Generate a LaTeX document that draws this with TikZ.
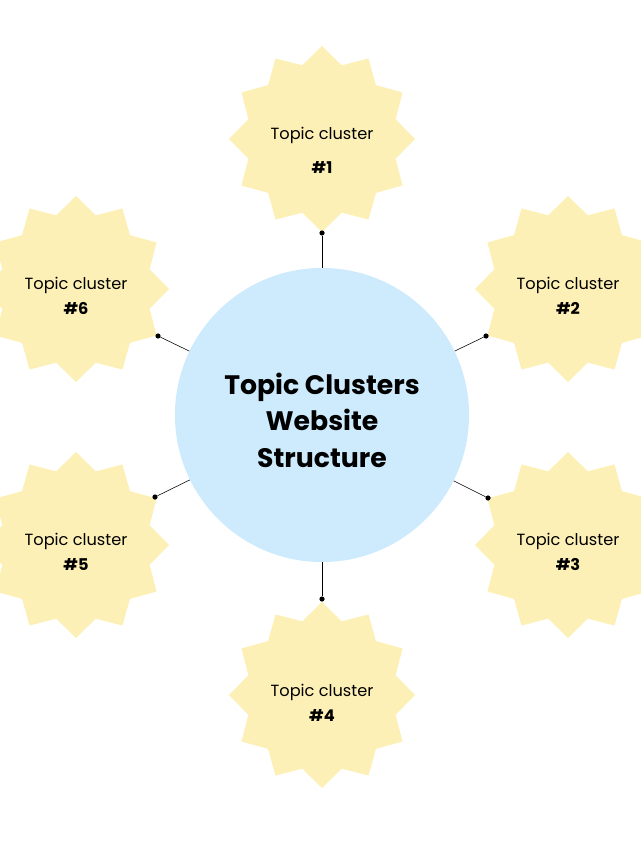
\documentclass[tikz,border=0pt]{standalone}
\usepackage{fontspec}
\setmainfont{Poppins}
\usetikzlibrary{shapes.geometric, positioning}
\definecolor{starfill}{HTML}{FDF0B6}
\definecolor{hubfill}{HTML}{CDEBFC}
\begin{document}
\begin{tikzpicture}[x=0.025cm, y=-0.025cm,
    burst/.style={star, star points=12, star point ratio=1.22, minimum size=4.65cm,
      inner sep=0pt, fill=starfill, draw=none},
    tag/.style={align=center, font=\fontsize{11.5}{18}\selectfont},
    hub/.style={circle, fill=hubfill, minimum size=7.35cm, inner sep=0pt},
    title/.style={align=center, font=\fontsize{19}{26}\selectfont\bfseries},
    tip/.style={circle, fill=black, inner sep=0pt, minimum size=1.3mm}]
  \useasboundingbox (0,0) rectangle (640,853);

  % Mitte
  \node[hub] (H) at (322,415) {};
  \node[title] (HT) at (322,420) {Topic Clusters\\Website\\Structure};

  % Sterne
  \foreach \n/\x/\y in {1/322/139, 2/568/289, 3/568/545, 4/322/695, 5/76/545, 6/76/289}{
    \node[burst] (S\n) at (\x,\y) {};
  }
  \node[tag, font=\fontsize{11.5}{24}\selectfont] (T1) at (322,150) {Topic cluster\\\textbf{\#1}};
  \foreach \n/\x/\y in {2/568/296, 3/568/552, 4/322/703, 5/76/552, 6/76/296}{
    \node[tag] (T\n) at (\x,\y) {Topic cluster\\\textbf{\#\n}};
  }

  % Punkte und Linien
  \foreach \n/\x/\y in {1/322/233, 2/486/336, 3/488/498, 4/322/599, 5/155/497, 6/158/336}{
    \node[tip] (D\n) at (\x,\y) {};
    \draw[thin] (H) -- (D\n);
  }
\end{tikzpicture}
\end{document}
